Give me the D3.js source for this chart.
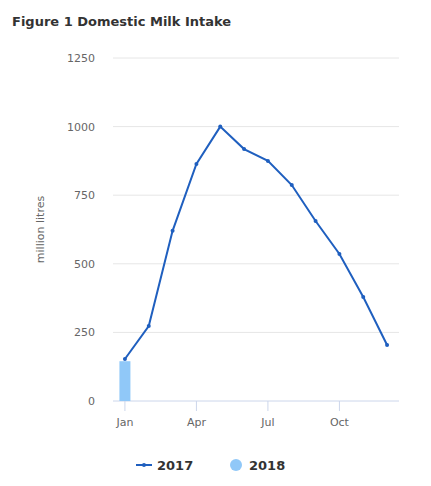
<!DOCTYPE html>
<html><head><meta charset="utf-8">
<script src="https://cdn.jsdelivr.net/npm/d3@7"></script>
<style>body{margin:0;background:#fff;font-family:"DejaVu Sans",sans-serif}</style>
</head><body><svg id="c" width="431" height="486"></svg>
<script>
const months=["Jan","Feb","Mar","Apr","May","Jun","Jul","Aug","Sep","Oct","Nov","Dec"];
const tickMonths=["Jan","Apr","Jul","Oct"];
const series2017=[153,273,620,864,1000,918,875,787,656,536,379,204];
const series2018=[145];
const yTicks=[0,250,500,750,1000,1250];
const svg=d3.select("#c");
svg.append("text").attr("x",12).attr("y",26).attr("font-size",13).attr("font-weight","bold").attr("fill","#333").text("Figure 1 Domestic Milk Intake");
const x=d3.scaleBand().domain(months).range([113,399]);
const y=d3.scaleLinear().domain([0,1250]).range([401,58]);
const g=svg.append("g");
yTicks.forEach(t=>{
  g.append("line").attr("x1",113).attr("x2",399).attr("y1",y(t)).attr("y2",y(t)).attr("stroke",t===0?"#ccd6eb":"#e6e6e6");
  g.append("text").attr("x",95).attr("y",y(t)+4).attr("text-anchor","end").attr("font-size",11).attr("fill","#666").text(t);
});
tickMonths.forEach(m=>{
  const cx=x(m)+x.bandwidth()/2;
  g.append("line").attr("x1",cx).attr("x2",cx).attr("y1",401).attr("y2",411).attr("stroke","#ccd6eb");
  g.append("text").attr("x",cx).attr("y",426).attr("text-anchor","middle").attr("font-size",11).attr("fill","#666").text(m);
});
svg.append("text").attr("transform",`translate(44,${y(625)}) rotate(-90)`).attr("text-anchor","middle").attr("font-size",11).attr("fill","#666").text("million litres");
series2018.forEach((v,i)=>{
  g.append("rect").attr("x",x(months[i])+x.bandwidth()/2-5.5).attr("width",11).attr("y",y(v)).attr("height",y(0)-y(v)).attr("fill","#90c8f8");
});
const line=d3.line().x((d,i)=>x(months[i])+x.bandwidth()/2).y(d=>y(d));
g.append("path").attr("d",line(series2017)).attr("fill","none").attr("stroke","#1f5fbf").attr("stroke-width",2);
series2017.forEach((v,i)=>g.append("circle").attr("cx",x(months[i])+x.bandwidth()/2).attr("cy",y(v)).attr("r",2).attr("fill","#1f5fbf"));
const lg=svg.append("g");
lg.append("line").attr("x1",136).attr("x2",152).attr("y1",465).attr("y2",465).attr("stroke","#1f5fbf").attr("stroke-width",2);
lg.append("circle").attr("cx",144).attr("cy",465).attr("r",2).attr("fill","#1f5fbf");
lg.append("text").attr("x",157).attr("y",470).attr("font-size",13).attr("font-weight","bold").attr("fill","#333").text("2017");
lg.append("circle").attr("cx",236).attr("cy",465).attr("r",6).attr("fill","#90c8f8");
lg.append("text").attr("x",249).attr("y",470).attr("font-size",13).attr("font-weight","bold").attr("fill","#333").text("2018");
</script></body></html>
